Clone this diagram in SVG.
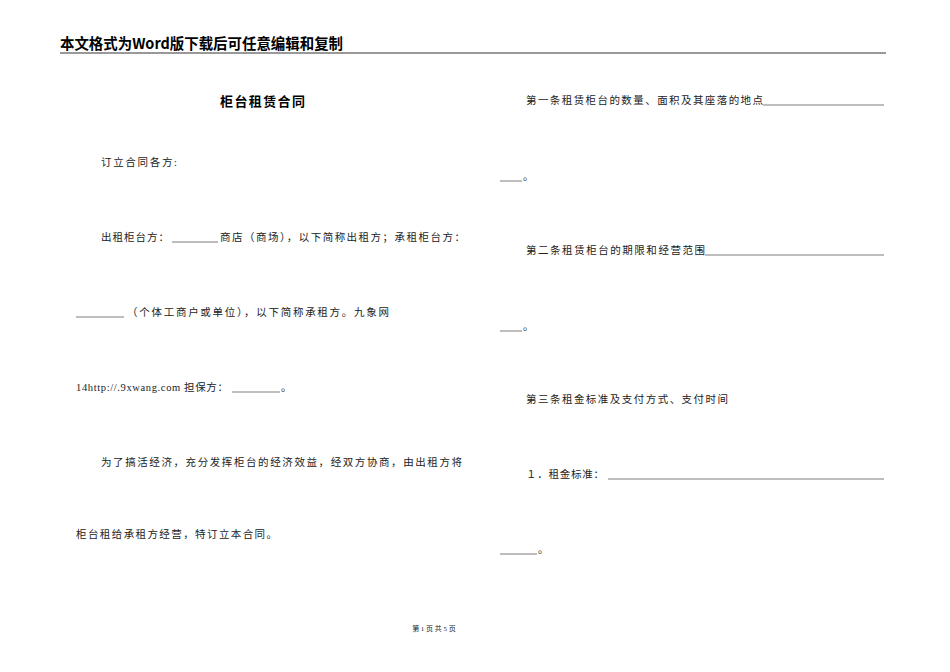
<svg xmlns="http://www.w3.org/2000/svg" width="950" height="672" viewBox="0 0 950 672">
<style>
.h{font-family:"Noto Sans CJK SC",sans-serif;font-size:15px;font-weight:bold;fill:#000}
.t{font-family:"Noto Sans CJK SC",sans-serif;font-size:13px;font-weight:bold;fill:#000}
.b{font-family:"Liberation Serif","Noto Sans CJK SC",serif;font-size:10.5px;fill:#222}
.f{font-family:"Liberation Serif","Noto Sans CJK SC",serif;font-size:7px;fill:#222}
.u{stroke:#444;stroke-width:0.7}
</style>
<rect width="950" height="672" fill="#fff"/>
<g id="header">
<text class="h" x="60" y="49" textLength="283" lengthAdjust="spacingAndGlyphs">本文格式为Word版下载后可任意编辑和复制</text>
<line x1="60" y1="53" x2="886" y2="53" stroke="#777" stroke-width="1.5"/>
</g>
<g id="left">
<text class="t" x="220" y="106" textLength="85" lengthAdjust="spacing">柜台租赁合同</text>
<text class="b" x="101" y="166" textLength="76" lengthAdjust="spacing">订立合同各方:</text>
<text class="b" x="101" y="241" textLength="68" lengthAdjust="spacing">出租柜台方：</text>
<line class="u" x1="172" y1="242" x2="218" y2="242"/>
<text class="b" x="220" y="241" textLength="245" lengthAdjust="spacing">商店（商场），以下简称出租方；承租柜台方：</text>
<line class="u" x1="76" y1="317" x2="124" y2="317"/>
<text class="b" x="127" y="316" textLength="262" lengthAdjust="spacing">（个体工商户或单位），以下简称承租方。九象网</text>
<text class="b" x="76" y="391" textLength="152" lengthAdjust="spacing">14http://.9xwang.com 担保方：</text>
<line class="u" x1="232" y1="392" x2="280" y2="392"/>
<text class="b" x="281" y="391">。</text>
<text class="b" x="101" y="466" textLength="361" lengthAdjust="spacing">为了搞活经济，充分发挥柜台的经济效益，经双方协商，由出租方将</text>
<text class="b" x="76" y="538" textLength="201" lengthAdjust="spacing">柜台租给承租方经营，特订立本合同。</text>
</g>
<g id="right">
<text class="b" x="526" y="104" textLength="237" lengthAdjust="spacing">第一条租赁柜台的数量、面积及其座落的地点</text>
<line class="u" x1="763" y1="105" x2="884" y2="105"/>
<line class="u" x1="500" y1="181" x2="522" y2="181"/>
<text class="b" x="523" y="180">。</text>
<text class="b" x="526" y="254" textLength="179" lengthAdjust="spacing">第二条租赁柜台的期限和经营范围</text>
<line class="u" x1="705" y1="255" x2="884" y2="255"/>
<line class="u" x1="500" y1="331" x2="522" y2="331"/>
<text class="b" x="523" y="330">。</text>
<text class="b" x="526" y="403" textLength="202" lengthAdjust="spacing">第三条租金标准及支付方式、支付时间</text>
<text class="b" x="526" y="478" textLength="78" lengthAdjust="spacing">１．租金标准：</text>
<line class="u" x1="608" y1="479" x2="884" y2="479"/>
<line class="u" x1="500" y1="554" x2="537" y2="554"/>
<text class="b" x="538" y="553">。</text>
</g>
<g id="footer">
<text class="f" x="434" y="631" text-anchor="middle">第 1 页 共 5 页</text>
</g>
</svg>
